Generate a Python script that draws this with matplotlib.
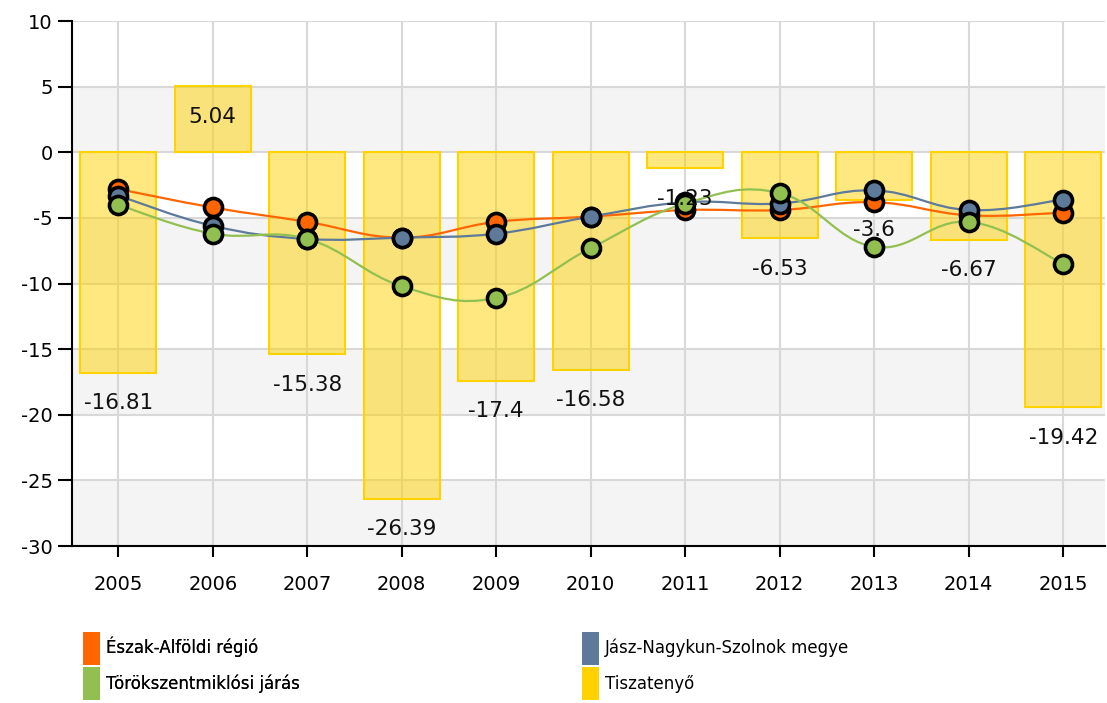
"""
Recreated bar + smoothed line chart (Tiszatenyő vs. region / county / district)
"""

import numpy as np
import matplotlib
matplotlib.use("Agg")
import matplotlib.pyplot as plt
from matplotlib.path import Path
from matplotlib.patches import PathPatch, Patch

years = ["2005", "2006", "2007", "2008", "2009", "2010",
         "2011", "2012", "2013", "2014", "2015"]

regio = [-2.8, -4.2, -5.3, -6.5, -5.3, -4.9, -4.4, -4.4, -3.8, -4.8, -4.6]
megye = [-3.3, -5.6, -6.6, -6.5, -6.2, -4.9, -3.8, -3.9, -2.9, -4.4, -3.6]
jaras = [-4.0, -6.2, -6.6, -10.2, -11.1, -7.3, -3.9, -3.1, -7.2, -5.3, -8.5]
tiszatenyo = [-16.81, 5.04, -15.38, -26.39, -17.4, -16.58,
              -1.23, -6.53, -3.6, -6.67, -19.42]

names = ["Észak-Alföldi régió", "Jász-Nagykun-Szolnok megye",
         "Törökszentmiklósi járás", "Tiszatenyő"]
colors = ["#FF6600", "#5E7A9A", "#92C050", "#FFD200"]

plt.rcParams["axes.unicode_minus"] = False


def smooth_path(xs, ys, t=0.2):
    """cubic bezier path through the points (Catmull-Rom style handles)"""
    xs = np.asarray(xs, float)
    ys = np.asarray(ys, float)
    verts = [(xs[0], ys[0])]
    codes = [Path.MOVETO]
    n = len(xs)
    for i in range(n - 1):
        i0 = max(i - 1, 0)
        i3 = min(i + 2, n - 1)
        c1 = (xs[i] + (xs[i + 1] - xs[i0]) * t, ys[i] + (ys[i + 1] - ys[i0]) * t)
        c2 = (xs[i + 1] - (xs[i3] - xs[i]) * t, ys[i + 1] - (ys[i3] - ys[i]) * t)
        verts += [c1, c2, (xs[i + 1], ys[i + 1])]
        codes += [Path.CURVE4] * 3
    return Path(verts, codes)


fig = plt.figure(figsize=(11.07, 7.03), dpi=100)
ax = fig.add_axes([0.065, 0.2233, 0.933, 0.7467])

x = np.arange(len(years))
ax.set_xlim(-0.49, 10.44)
ax.set_ylim(-30, 10)

# alternating background bands
for lo in range(-30, 10, 10):
    ax.axhspan(lo, lo + 5, color="#F4F4F4", zorder=0, lw=0)

ax.set_yticks(range(-30, 11, 5))
ax.set_xticks(x)
ax.set_xticklabels(years)
ax.grid(True, color="#D8D8D8", lw=1.5, zorder=1)
ax.set_axisbelow(True)

ax.bar(x, tiszatenyo, width=0.8, color="#FFD200", alpha=0.5, zorder=2, lw=0)
ax.bar(x, tiszatenyo, width=0.8, facecolor="none", edgecolor="#FFD200",
       lw=1.5, zorder=2)

for xi, v in zip(x, tiszatenyo):
    ax.annotate(f"{v:g}", (xi, v), xytext=(0, -22), textcoords="offset points",
                ha="center", va="center", fontsize=15.5, color="#111111", zorder=6)

for series, c in zip([regio, megye, jaras], colors[:3]):
    ax.add_patch(PathPatch(smooth_path(x, series), fill=False, edgecolor=c,
                           lw=1.6, zorder=3))

# orange at the back, green in front
for series, c in zip([regio, megye, jaras], colors[:3]):
    ax.plot(x, series, ls="none", marker="o", ms=13, mfc=c, mec="black",
            mew=2.6, zorder=4)

for s in ["top", "right"]:
    ax.spines[s].set_visible(False)
ax.spines["left"].set_linewidth(1.5)
ax.spines["bottom"].set_linewidth(1.5)
ax.tick_params(axis="y", length=10, width=1.5, labelsize=14, pad=4)
ax.tick_params(axis="x", length=8, width=1.5, labelsize=14, pad=13)

handles = [Patch(facecolor=c, edgecolor="none") for c in colors]
leg_kw = dict(loc="upper left", frameon=False, fontsize=12, handlelength=1.0,
              handleheight=2.64, handletextpad=0.35, labelspacing=0.15,
              borderpad=0, borderaxespad=0)
leg1 = fig.legend([handles[0], handles[2]], [names[0], names[2]],
                  bbox_to_anchor=(0.075, 0.101), **leg_kw)
fig.add_artist(leg1)
fig.legend([handles[1], handles[3]], [names[1], names[3]],
           bbox_to_anchor=(0.526, 0.101), **leg_kw)

fig.savefig("out.png", dpi=100)
